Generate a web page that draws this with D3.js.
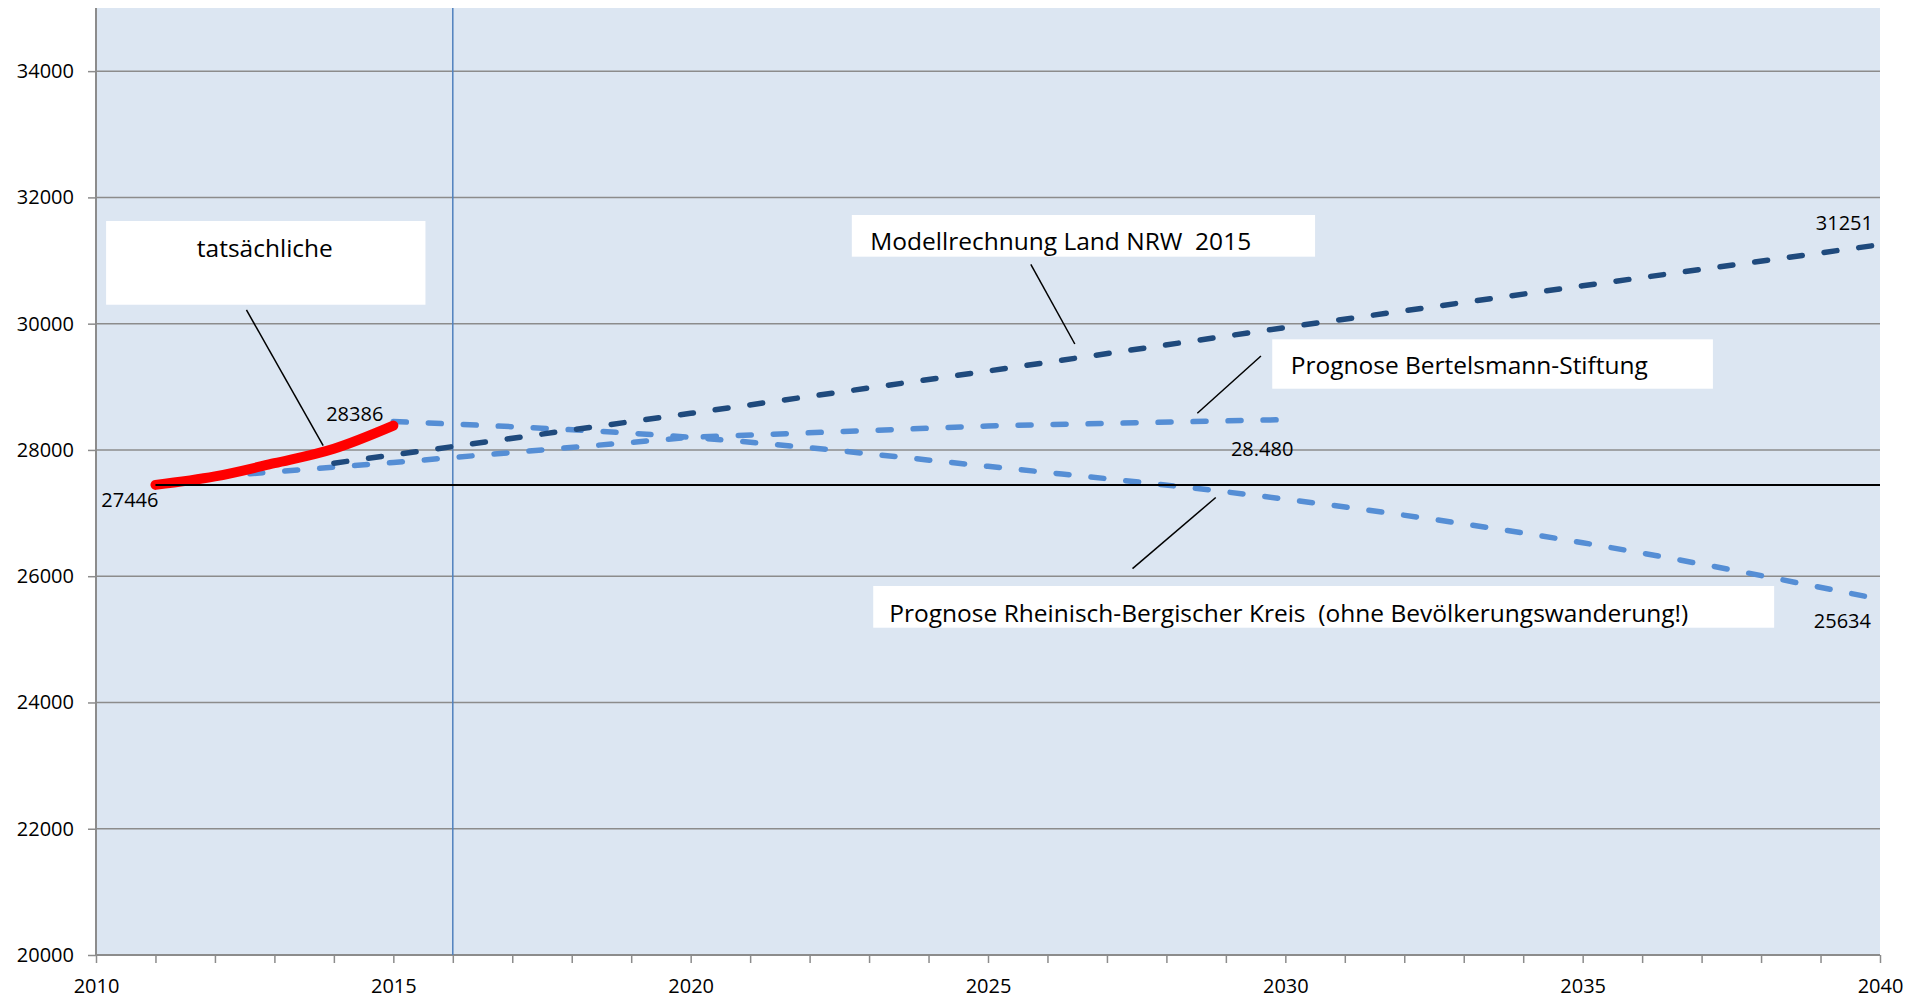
<!DOCTYPE html>
<html><head><meta charset="utf-8">
<script src="https://cdn.jsdelivr.net/npm/d3@7"></script>
<style>
body{margin:0;background:#fff;}
svg{display:block;}
text{font-family:"Open Sans",sans-serif;fill:#000;}
</style>
</head><body>
<svg id="chart" width="1926" height="1000"></svg>
<script>
// ---- data ----
const actualYears = [2011, 2012, 2013, 2014, 2015];
const actualValues = [27446, 27580, 27790, 28020, 28386];

const nrwYears = [2014, 2020, 2025, 2030, 2035, 2040];
const nrwValues = [27790, 28580, 29250, 29940, 30600, 31251];

const bertelsmannYears = [2012, 2015, 2020, 2025, 2030];
const bertelsmannValues = [27580, 27800, 28200, 28380, 28480];

const rbkYears = [2015, 2020, 2025, 2030, 2035, 2040];
const rbkValues = [28450, 28200, 27740, 27220, 26530, 25634];

const baselineYears = [2011, 2040];
const baselineValue = 27446;
const markerYear = 2016;

const yTickValues = [20000, 22000, 24000, 26000, 28000, 30000, 32000, 34000];
const xLabelYears = [2010, 2015, 2020, 2025, 2030, 2035, 2040];

const annotationTexts = {
  actual: "tatsächliche",
  nrw: "Modellrechnung Land NRW\u00a0\u00a02015",
  bertelsmann: "Prognose Bertelsmann-Stiftung",
  rbk: "Prognose Rheinisch-Bergischer Kreis\u00a0\u00a0(ohne Bevölkerungswanderung!)"
};
const valueLabels = [
  {year: 2011, value: 27446, text: "27446"},
  {year: 2015, value: 28386, text: "28386"},
  {year: 2040, value: 31251, text: "31251"},
  {year: 2040, value: 25634, text: "25634"},
  {year: 2030, value: 28480, text: "28.480"}
];

// ---- layout ----
const L = 96, R = 1880, T = 8, B = 955;
const svg = d3.select("#chart");
const x = d3.scaleLinear().domain([2010, 2040]).range([L, R]);
const y = d3.scaleLinear().domain([20000, 35000]).range([B, T]);

const C = {
  bg: "#dce6f2", grid: "#8c8c8c", navy: "#1f4a7d", light: "#558ed5",
  red: "#ff0000", marker: "#4f81bd"
};

// plot background
svg.append("rect").attr("x", L).attr("y", T).attr("width", R - L).attr("height", B - T).attr("fill", C.bg);

// gridlines
svg.append("g").selectAll("line").data(yTickValues.filter(v => v > 20000)).join("line")
  .attr("x1", L).attr("x2", R).attr("y1", d => y(d)).attr("y2", d => y(d))
  .attr("stroke", C.grid).attr("stroke-width", 1.5);

// y axis
const yAxis = svg.append("g").attr("transform", `translate(${L},0)`)
  .call(d3.axisLeft(y).tickValues(yTickValues).tickSize(8).tickPadding(14).tickFormat(d3.format("d")));
yAxis.select(".domain").attr("d", `M0,${T}V${B}`).attr("stroke", C.grid).attr("stroke-width", 2);
yAxis.selectAll(".tick line").attr("stroke", C.grid).attr("stroke-width", 1.5);
yAxis.selectAll("text").attr("font-size", 20).attr("font-family", "Open Sans").attr("fill", "#000");

// x axis
const xTickYears = d3.range(2010, 2041);
const xAxis = svg.append("g").attr("transform", `translate(0,${B})`)
  .call(d3.axisBottom(x).tickValues(xTickYears).tickSize(8).tickPadding(16)
    .tickFormat(d => xLabelYears.includes(d) ? String(d) : ""));
xAxis.select(".domain").attr("d", `M${L},0H${R}`).attr("stroke", C.grid).attr("stroke-width", 2);
xAxis.selectAll(".tick line").attr("stroke", C.grid).attr("stroke-width", 1.5);
xAxis.selectAll("text").attr("font-size", 20).attr("font-family", "Open Sans").attr("fill", "#000");

// marker line at 2016
svg.append("line").attr("x1", x(markerYear)).attr("x2", x(markerYear)).attr("y1", T).attr("y2", B)
  .attr("stroke", C.marker).attr("stroke-width", 1.5);

const line = d3.line().x(d => x(d[0])).y(d => y(d[1]));
const smooth = d3.line().curve(d3.curveMonotoneX).x(d => x(d[0])).y(d => y(d[1]));
const zip = (a, b) => a.map((v, i) => [v, b[i]]);

// Bertelsmann (light blue dashed)
svg.append("path").attr("d", line(zip(bertelsmannYears, bertelsmannValues)))
  .attr("fill", "none").attr("stroke", C.light).attr("stroke-width", 5.5)
  .attr("stroke-dasharray", "13,22").attr("stroke-linecap", "round");
// Rheinisch-Bergischer Kreis (light blue dashed)
svg.append("path").attr("d", smooth(zip(rbkYears, rbkValues)))
  .attr("fill", "none").attr("stroke", C.light).attr("stroke-width", 5.5)
  .attr("stroke-dasharray", "13,22").attr("stroke-linecap", "round");
// NRW (navy dashed)
svg.append("path").attr("d", line(zip(nrwYears, nrwValues)))
  .attr("fill", "none").attr("stroke", C.navy).attr("stroke-width", 5.5)
  .attr("stroke-dasharray", "13,22").attr("stroke-linecap", "round");
// actual (red thick)
svg.append("path").attr("d", smooth(zip(actualYears, actualValues)))
  .attr("fill", "none").attr("stroke", C.red).attr("stroke-width", 10)
  .attr("stroke-linecap", "round").attr("stroke-linejoin", "round");
// baseline
svg.append("line").attr("x1", x(baselineYears[0])).attr("x2", x(baselineYears[1]))
  .attr("y1", y(baselineValue)).attr("y2", y(baselineValue))
  .attr("stroke", "#000").attr("stroke-width", 2);

// value labels (offsets in px from their points)
const labelOffsets = [
  {dx: 3, dy: 22}, {dx: -10, dy: -5}, {dx: -7, dy: -15}, {dx: -9, dy: 29}, {dx: 8, dy: 36}
];
svg.append("g").selectAll("text").data(valueLabels).join("text")
  .attr("x", (d, i) => x(d.year) + labelOffsets[i].dx)
  .attr("y", (d, i) => y(d.value) + labelOffsets[i].dy)
  .attr("text-anchor", "end").attr("font-size", 20).text(d => d.text);

// annotation boxes (positioned in data space)
const boxes = [
  {key: "actual", x0: 2010.17, x1: 2015.54, yTop: 31626, yBot: 30300, tx: 2012.84, ty: 31061, anchor: "middle",
   lx1: 2012.53, ly1: 30217, lx2: 2013.82, ly2: 28067},
  {key: "nrw", x0: 2022.71, x1: 2030.50, yTop: 31721, yBot: 31061, tx: 2023.02, ty: 31167, anchor: "start",
   lx1: 2025.72, ly1: 30940, lx2: 2026.46, ly2: 29678},
  {key: "bertelsmann", x0: 2029.78, x1: 2037.19, yTop: 29752, yBot: 28970, tx: 2030.09, ty: 29203, anchor: "start",
   lx1: 2029.59, ly1: 29488, lx2: 2028.52, ly2: 28580},
  {key: "rbk", x0: 2023.07, x1: 2038.22, yTop: 25845, yBot: 25184, tx: 2023.34, ty: 25279, anchor: "start",
   lx1: 2027.43, ly1: 26119, lx2: 2028.83, ly2: 27247}
];
const ann = svg.append("g");
boxes.forEach(b => {
  ann.append("rect").attr("x", x(b.x0)).attr("y", y(b.yTop))
    .attr("width", x(b.x1) - x(b.x0)).attr("height", y(b.yBot) - y(b.yTop)).attr("fill", "#fff");
  ann.append("text").attr("x", x(b.tx)).attr("y", y(b.ty)).attr("text-anchor", b.anchor)
    .attr("font-size", 24.5).text(annotationTexts[b.key]);
  ann.append("line").attr("x1", x(b.lx1)).attr("y1", y(b.ly1)).attr("x2", x(b.lx2)).attr("y2", y(b.ly2))
    .attr("stroke", "#000").attr("stroke-width", 1.5);
});
</script>
</body></html>
